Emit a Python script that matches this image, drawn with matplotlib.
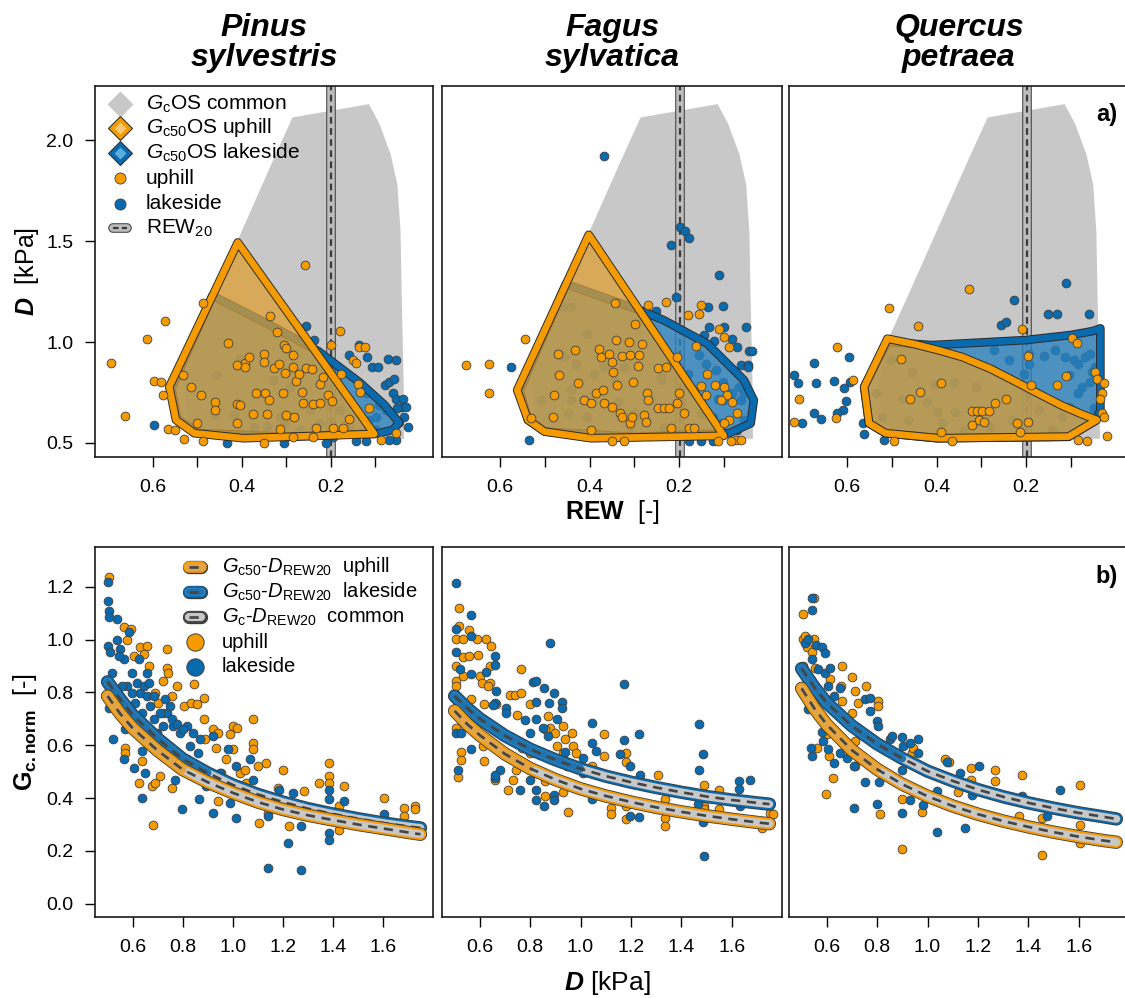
import numpy as np
import matplotlib.pyplot as plt
from matplotlib.patches import Polygon
import matplotlib.patheffects as pe

plt.rcParams['font.family'] = ['Liberation Sans', 'DejaVu Sans']
plt.rcParams['mathtext.fontset'] = 'custom'
plt.rcParams['mathtext.rm'] = 'Liberation Sans'
plt.rcParams['mathtext.it'] = 'Liberation Sans:italic'
plt.rcParams['mathtext.bf'] = 'Liberation Sans:bold'
plt.rcParams['mathtext.bfit'] = 'Liberation Sans:bold:italic'

# %%
# data
species = ['Pinus\nsylvestris', 'Fagus\nsylvatica', 'Quercus\npetraea']
rew20 = [0.199, 0.199, 0.199]

# common Gc operating space (REW, D)
common_os = [[0.286, 2.114], [0.33, 1.90], [0.37, 1.70], [0.41, 1.50], [0.45, 1.30],
             [0.503, 1.04], [0.53, 0.80], [0.52, 0.60], [0.48, 0.53], [0.035, 0.52],
             [0.036, 0.80], [0.040, 1.20], [0.043, 1.55], [0.050, 1.78], [0.065, 1.93],
             [0.09, 2.08], [0.114, 2.18]]

# Gc50 operating spaces
os_up = [
    [[0.409, 1.494], [0.563, 0.778], [0.548, 0.614], [0.507, 0.548], [0.396, 0.523], [0.102, 0.544]],
    [[0.402, 1.532], [0.562, 0.762], [0.538, 0.614], [0.501, 0.556], [0.397, 0.523], [0.100, 0.535]],
    [[0.51, 1.017], [0.45, 0.99], [0.40, 0.962], [0.343, 0.926], [0.28, 0.868], [0.22, 0.80],
     [0.179, 0.752], [0.12, 0.685], [0.075, 0.642], [0.042, 0.614], [0.105, 0.531],
     [0.395, 0.523], [0.514, 0.548], [0.551, 0.597], [0.562, 0.778]],
]
os_lake = [
    [[0.466, 1.23], [0.35, 1.10], [0.228, 0.955], [0.135, 0.80], [0.08, 0.69], [0.046, 0.60],
     [0.06, 0.565], [0.09, 0.548], [0.3, 0.53], [0.5, 0.55], [0.545, 0.62], [0.558, 0.77]],
    [[0.453, 1.288], [0.285, 1.156], [0.233, 1.107], [0.137, 0.992], [0.055, 0.811], [0.033, 0.712],
     [0.04, 0.597], [0.088, 0.548], [0.3, 0.53], [0.5, 0.556], [0.538, 0.614], [0.556, 0.76]],
    [[0.51, 1.0], [0.41, 0.985], [0.2, 1.01], [0.1, 1.035], [0.05, 1.055], [0.034, 1.068],
     [0.034, 0.66], [0.045, 0.61], [0.105, 0.53], [0.4, 0.523], [0.514, 0.548], [0.551, 0.597],
     [0.562, 0.778]],
]

# daily points, top row (REW, D)
pinus_up_top = np.array([
    [0.695, 0.898], [0.662, 0.633], [0.614, 1.017], [0.598, 0.808], [0.581, 0.803], [0.578, 0.737],
    [0.572, 1.104], [0.565, 0.569], [0.55, 0.564], [0.531, 0.518], [0.533, 0.836], [0.515, 0.778],
    [0.5, 0.6], [0.492, 0.737], [0.487, 1.194], [0.487, 0.51], [0.46, 0.704], [0.46, 0.663],
    [0.431, 0.997], [0.411, 0.885], [0.411, 0.691], [0.392, 0.898], [0.392, 0.877], [0.383, 0.926],
    [0.375, 0.643], [0.368, 0.748], [0.35, 0.939], [0.35, 0.901], [0.348, 0.748], [0.344, 0.643],
    [0.338, 0.712], [0.336, 1.128], [0.327, 0.873], [0.321, 1.05], [0.316, 0.89], [0.308, 0.745],
    [0.305, 0.984], [0.303, 0.847], [0.3, 0.972], [0.3, 0.638], [0.284, 0.934], [0.284, 0.877],
    [0.282, 0.627], [0.279, 0.808], [0.271, 0.841], [0.265, 0.753], [0.262, 0.699], [0.258, 1.384],
    [0.256, 0.869], [0.242, 0.864], [0.239, 0.692], [0.232, 0.572], [0.225, 0.794], [0.223, 0.696],
    [0.217, 0.827], [0.206, 0.737], [0.199, 0.984], [0.197, 0.709], [0.195, 0.572], [0.18, 1.054],
    [0.176, 0.844], [0.172, 0.572], [0.158, 0.617], [0.149, 0.913], [0.143, 0.897], [0.139, 0.794],
    [0.136, 0.975], [0.124, 0.975], [0.134, 0.753], [0.113, 0.671], [0.087, 0.515], [0.053, 0.548],
    [0.239, 0.531], [0.284, 0.531], [0.351, 0.498], [0.403, 0.688], [0.411, 0.597], [0.315, 0.569]])
pinus_lake_top = np.array([
    [0.597, 0.589], [0.433, 0.498], [0.306, 0.498], [0.256, 1.082], [0.237, 1.012], [0.21, 0.498],
    [0.158, 0.934], [0.136, 0.984], [0.119, 0.926], [0.107, 0.877], [0.094, 0.877], [0.072, 0.918],
    [0.054, 0.91], [0.079, 0.786], [0.068, 0.803], [0.057, 0.819], [0.061, 0.745], [0.053, 0.72],
    [0.037, 0.72], [0.04, 0.679], [0.05, 0.671], [0.031, 0.679], [0.035, 0.63], [0.027, 0.58],
    [0.046, 0.605], [0.053, 0.515], [0.068, 0.515], [0.12, 0.507], [0.143, 0.507], [0.098, 0.564],
    [0.113, 0.614], [0.12, 0.745], [0.091, 0.688], [0.076, 0.663], [0.098, 0.63], [0.455, 0.836],
    [0.403, 0.918], [0.418, 0.638], [0.329, 0.811], [0.292, 0.778], [0.314, 0.63], [0.344, 0.581],
    [0.373, 0.581], [0.306, 0.605], [0.269, 0.564], [0.225, 0.597], [0.18, 0.663], [0.158, 0.581],
    [0.195, 0.531], [0.247, 0.663], [0.463, 0.638], [0.507, 0.564]])
fagus_up_top = np.array([
    [0.676, 0.888], [0.624, 0.893], [0.624, 0.745], [0.544, 1.017], [0.531, 0.622], [0.343, 1.193],
    [0.27, 1.186], [0.23, 1.198], [0.151, 1.186], [0.155, 1.14], [0.18, 1.132], [0.111, 1.066],
    [0.163, 0.979], [0.1, 1.025], [0.089, 0.975], [0.205, 0.926], [0.137, 0.844], [0.151, 0.781],
    [0.14, 0.737], [0.12, 0.786], [0.1, 0.778], [0.093, 0.737], [0.107, 0.712], [0.081, 0.704],
    [0.07, 0.646], [0.089, 0.614], [0.1, 0.597], [0.2, 0.745], [0.177, 0.572], [0.166, 0.572],
    [0.218, 0.572], [0.189, 0.646], [0.204, 0.696], [0.073, 0.515], [0.062, 0.515], [0.084, 0.507],
    [0.114, 0.507], [0.349, 0.507], [0.323, 0.507], [0.471, 0.943], [0.433, 0.963], [0.468, 0.836],
    [0.479, 0.737], [0.483, 0.63], [0.427, 0.795], [0.386, 0.749], [0.371, 0.762], [0.378, 0.967],
    [0.374, 0.926], [0.356, 0.943], [0.341, 1.008], [0.327, 0.929], [0.312, 1.0], [0.309, 0.934],
    [0.29, 0.934], [0.298, 1.09], [0.283, 0.992], [0.302, 0.803], [0.293, 0.88], [0.349, 0.901],
    [0.347, 0.852], [0.339, 0.786], [0.367, 0.696], [0.412, 0.712], [0.397, 0.696], [0.349, 0.679],
    [0.332, 0.646], [0.327, 0.63], [0.309, 0.597], [0.305, 0.63], [0.278, 0.638], [0.274, 0.605],
    [0.272, 0.745], [0.27, 0.712], [0.248, 0.869], [0.248, 0.671], [0.233, 0.671], [0.222, 0.671],
    [0.23, 0.877], [0.397, 0.564]])
fagus_lake_top = np.array([
    [0.367, 1.921], [0.197, 1.571], [0.187, 1.551], [0.178, 1.518], [0.218, 1.482], [0.207, 1.226],
    [0.111, 1.334], [0.101, 1.181], [0.252, 1.156], [0.136, 1.176], [0.133, 1.074], [0.1, 1.074],
    [0.051, 1.074], [0.145, 1.033], [0.123, 1.003], [0.081, 1.016], [0.071, 0.975], [0.043, 0.956],
    [0.038, 0.956], [0.062, 0.885], [0.047, 0.885], [0.047, 0.877], [0.066, 0.778], [0.575, 0.877],
    [0.535, 0.512], [0.155, 0.934], [0.14, 0.893], [0.118, 0.861], [0.103, 0.803], [0.181, 0.844],
    [0.181, 0.786], [0.166, 0.753], [0.114, 0.72], [0.081, 0.745], [0.1, 0.712], [0.062, 0.712],
    [0.055, 0.745], [0.055, 0.614], [0.07, 0.564], [0.151, 0.507], [0.125, 0.507], [0.177, 0.507],
    [0.107, 0.597], [0.151, 0.646], [0.125, 0.63], [0.46, 1.173], [0.442, 1.173], [0.405, 1.041],
    [0.464, 0.934], [0.431, 0.893], [0.457, 0.929], [0.39, 0.844], [0.367, 0.877], [0.323, 0.877],
    [0.345, 0.819], [0.241, 0.811], [0.442, 0.762], [0.442, 0.712], [0.509, 0.712], [0.449, 0.646],
    [0.407, 0.63], [0.337, 0.704], [0.3, 0.646], [0.263, 0.72], [0.241, 0.827], [0.196, 0.704],
    [0.309, 0.581], [0.233, 0.572]])
quercus_up_top = np.array([
    [0.719, 0.605], [0.708, 0.716], [0.626, 0.622], [0.622, 0.975], [0.587, 0.811], [0.507, 1.168],
    [0.495, 0.507], [0.48, 0.918], [0.441, 1.078], [0.328, 1.263], [0.21, 1.066], [0.195, 0.929],
    [0.098, 1.02], [0.086, 0.997], [0.11, 0.831], [0.045, 0.852], [0.041, 0.819], [0.026, 0.798],
    [0.03, 0.745], [0.034, 0.716], [0.03, 0.646], [0.026, 0.63], [0.019, 0.535], [0.084, 0.515],
    [0.064, 0.507], [0.391, 0.798], [0.437, 0.753], [0.46, 0.72], [0.391, 0.556], [0.365, 0.507],
    [0.321, 0.658], [0.31, 0.658], [0.298, 0.658], [0.283, 0.658], [0.306, 0.614], [0.295, 0.605],
    [0.269, 0.699], [0.246, 0.72], [0.22, 0.597], [0.213, 0.556], [0.321, 0.589], [0.131, 0.786],
    [0.19, 0.786], [0.195, 0.605]])
quercus_lake_top = np.array([
    [0.719, 0.836], [0.709, 0.798], [0.674, 0.897], [0.67, 0.795], [0.629, 0.806], [0.596, 0.926],
    [0.594, 0.803], [0.607, 0.77], [0.602, 0.707], [0.609, 0.663], [0.622, 0.65], [0.674, 0.65],
    [0.659, 0.617], [0.701, 0.6], [0.565, 0.597], [0.563, 0.544], [0.518, 0.515], [0.226, 1.209],
    [0.257, 1.086], [0.246, 1.099], [0.151, 1.14], [0.132, 1.14], [0.11, 1.295], [0.06, 1.14],
    [0.272, 0.959], [0.239, 0.91], [0.194, 0.943], [0.159, 0.929], [0.135, 0.959], [0.113, 0.926],
    [0.068, 0.926], [0.057, 0.943], [0.093, 0.91], [0.085, 0.893], [0.053, 0.852], [0.057, 0.803],
    [0.075, 0.778], [0.085, 0.745], [0.105, 0.836], [0.194, 0.893], [0.205, 0.844], [0.105, 0.679],
    [0.049, 0.671], [0.045, 0.877], [0.034, 0.646], [0.503, 0.91], [0.455, 0.852], [0.536, 0.745],
    [0.477, 0.72], [0.421, 0.704], [0.403, 0.786], [0.361, 0.803], [0.313, 0.778], [0.358, 0.655],
    [0.399, 0.655], [0.522, 0.63], [0.464, 0.614], [0.388, 0.597], [0.339, 0.564], [0.281, 0.581],
    [0.232, 0.614], [0.194, 0.745], [0.172, 0.663], [0.142, 0.564], [0.12, 0.63]])

# daily points, bottom row (D, Gc.norm)
pinus_up_bot = np.array([
    [0.505, 1.236], [0.564, 1.046], [0.593, 1.039], [0.577, 1.0], [0.604, 0.938], [0.628, 0.97],
    [0.657, 0.976], [0.644, 0.945], [0.664, 0.9], [0.69, 0.799], [0.703, 0.761], [0.723, 0.723],
    [0.736, 0.964], [0.736, 0.894], [0.743, 0.875], [0.723, 0.843], [0.776, 0.824], [0.756, 0.787],
    [0.805, 0.749], [0.845, 0.831], [0.832, 0.761], [0.859, 0.755], [0.884, 0.78], [0.884, 0.698],
    [0.89, 0.622], [0.922, 0.66], [0.942, 0.647], [0.935, 0.591], [0.988, 0.641], [1.001, 0.673],
    [1.017, 0.666], [1.001, 0.584], [0.972, 0.546], [0.955, 0.496], [1.028, 0.496], [1.048, 0.508],
    [1.083, 0.698], [1.083, 0.61], [1.083, 0.584], [1.054, 0.458], [1.1, 0.521], [1.134, 0.534],
    [1.107, 0.306], [1.14, 0.344], [1.18, 0.439], [1.2, 0.508], [1.224, 0.293], [1.286, 0.426],
    [1.346, 0.458], [1.386, 0.534], [1.386, 0.483], [1.386, 0.458], [1.425, 0.369], [1.446, 0.445],
    [1.425, 0.281], [1.604, 0.401], [1.684, 0.363], [1.684, 0.331], [1.73, 0.369], [1.73, 0.357],
    [0.683, 0.3], [0.677, 0.445], [0.69, 0.458], [0.624, 0.458], [0.637, 0.54], [0.71, 0.483],
    [0.756, 0.439], [0.942, 0.388], [0.571, 0.591], [0.571, 0.572], [0.816, 0.546], [0.829, 0.496]])
pinus_lake_bot = np.array([
    [0.502, 1.219], [0.501, 1.147], [0.505, 1.109], [0.505, 1.084], [0.502, 0.976], [0.511, 0.951],
    [0.518, 0.875], [0.505, 0.742], [0.522, 0.622], [0.538, 1.077], [0.538, 1.0], [0.551, 0.964],
    [0.564, 0.926], [0.577, 0.824], [0.571, 0.66], [0.567, 0.546], [0.584, 1.027], [0.597, 0.875],
    [0.604, 0.698], [0.604, 0.515], [0.617, 0.837], [0.631, 0.799], [0.637, 0.723], [0.637, 0.578],
    [0.637, 0.401], [0.65, 0.496], [0.657, 0.875], [0.657, 0.787], [0.67, 0.749], [0.684, 0.698],
    [0.697, 0.647], [0.723, 0.673], [0.736, 0.723], [0.75, 0.749], [0.763, 0.673], [0.77, 0.47],
    [0.789, 0.647], [0.796, 0.357], [0.816, 0.673], [0.829, 0.597], [0.842, 0.647], [0.862, 0.572],
    [0.866, 0.395], [0.875, 0.496], [0.895, 0.445], [0.922, 0.344], [0.948, 0.496], [0.981, 0.584],
    [0.988, 0.382], [1.001, 0.445], [1.015, 0.325], [1.015, 0.521], [1.081, 0.47], [1.068, 0.546],
    [1.14, 0.331], [1.14, 0.135], [1.184, 0.432], [1.22, 0.23], [1.242, 0.42], [1.273, 0.293],
    [1.273, 0.129], [1.385, 0.432], [1.385, 0.395], [1.385, 0.268], [1.385, 0.243], [1.445, 0.388],
    [1.604, 0.338], [0.544, 0.938], [0.557, 0.824], [0.597, 0.799], [0.611, 0.761], [0.644, 0.824],
    [0.624, 0.926], [0.664, 0.837], [0.684, 0.787], [0.71, 0.723], [0.73, 0.774], [0.756, 0.698],
    [0.776, 0.679], [0.803, 0.66], [0.869, 0.622], [0.922, 0.635]])
fagus_up_bot = np.array([
    [0.516, 1.118], [0.516, 1.052], [0.505, 1.002], [0.534, 1.002], [0.557, 1.037], [0.587, 1.002],
    [0.626, 1.002], [0.646, 0.976], [0.507, 0.9], [0.534, 0.932], [0.557, 0.938], [0.594, 0.941],
    [0.534, 0.862], [0.6, 0.862], [0.64, 0.9], [0.64, 0.837], [0.505, 0.843], [0.505, 0.825],
    [0.607, 0.837], [0.633, 0.825], [0.762, 0.888], [0.719, 0.789], [0.739, 0.789], [0.762, 0.799],
    [0.615, 0.755], [0.666, 0.755], [0.567, 0.774], [0.746, 0.713], [0.799, 0.755], [0.872, 0.711],
    [0.878, 0.666], [0.859, 0.66], [0.899, 0.647], [0.931, 0.673], [0.938, 0.622], [0.965, 0.647],
    [0.971, 0.597], [0.984, 0.572], [0.931, 0.572], [0.905, 0.597], [0.799, 0.572], [0.706, 0.572],
    [0.766, 0.591], [0.505, 0.666], [0.527, 0.574], [0.527, 0.544], [0.514, 0.481], [0.615, 0.54],
    [0.613, 0.597], [0.66, 0.47], [0.713, 0.43], [0.733, 0.47], [0.743, 0.508], [0.799, 0.508],
    [0.825, 0.496], [0.859, 0.464], [0.859, 0.407], [0.931, 0.422], [0.951, 0.346], [0.984, 0.445],
    [1.044, 0.521], [1.093, 0.641], [1.093, 0.559], [1.122, 0.363], [1.122, 0.338], [1.18, 0.572],
    [1.182, 0.536], [1.18, 0.369], [1.18, 0.319], [1.309, 0.489], [1.335, 0.395], [1.335, 0.325],
    [1.335, 0.293], [1.491, 0.448], [1.491, 0.369], [1.491, 0.357], [1.548, 0.43], [1.548, 0.357],
    [1.753, 0.344], [1.766, 0.338], [1.72, 0.287]])
fagus_lake_bot = np.array([
    [0.507, 1.213], [0.567, 1.094], [0.507, 1.039], [0.567, 1.012], [0.505, 0.951], [0.66, 0.936],
    [0.66, 0.903], [0.52, 0.89], [0.567, 0.869], [0.626, 0.878], [0.666, 0.806], [0.66, 0.761],
    [0.706, 0.742], [0.706, 0.721], [0.507, 0.647], [0.527, 0.645], [0.567, 0.587], [0.654, 0.751],
    [0.81, 0.84], [0.823, 0.843], [0.856, 0.818], [0.896, 0.799], [0.825, 0.764], [0.876, 0.761],
    [0.925, 0.764], [0.925, 0.742], [0.878, 0.985], [0.779, 0.694], [0.799, 0.647], [0.823, 0.698],
    [0.852, 0.666], [0.872, 0.635], [0.905, 0.701], [0.938, 0.575], [1.011, 0.553], [1.044, 0.685],
    [1.044, 0.609], [1.06, 0.578], [0.68, 0.508], [0.66, 0.477], [0.759, 0.432], [0.823, 0.43],
    [0.825, 0.392], [0.856, 0.369], [0.896, 0.413], [0.896, 0.392], [1.044, 0.395], [1.157, 0.568],
    [1.174, 0.831], [1.174, 0.619], [1.232, 0.641], [1.196, 0.521], [1.236, 0.489], [1.196, 0.334],
    [1.232, 0.329], [1.471, 0.682], [1.485, 0.565], [1.471, 0.508], [1.468, 0.376], [1.485, 0.309],
    [1.491, 0.182], [1.63, 0.464], [1.63, 0.435], [1.671, 0.468], [1.634, 0.369], [0.514, 0.506],
    [0.66, 0.486], [0.799, 0.47], [0.945, 0.521], [1.011, 0.496]])
quercus_up_bot = np.array([
    [0.507, 1.096], [0.551, 1.156], [0.507, 1.002], [0.514, 1.014], [0.521, 0.97], [0.551, 1.002],
    [0.543, 0.951], [0.507, 0.9], [0.659, 0.9], [0.702, 0.86], [0.656, 0.824], [0.754, 0.824],
    [0.712, 0.806], [0.723, 0.759], [0.803, 0.767], [0.803, 0.749], [0.662, 0.767], [0.702, 0.723],
    [0.613, 0.85], [0.554, 0.894], [0.56, 0.591], [0.609, 0.561], [0.6, 0.641], [0.712, 0.616],
    [0.626, 0.477], [0.596, 0.417], [0.712, 0.521], [0.812, 0.341], [0.9, 0.207], [0.9, 0.395],
    [0.977, 0.346], [0.937, 0.572], [0.944, 0.591], [1.068, 0.546], [1.084, 0.536], [1.121, 0.422],
    [1.174, 0.515], [1.174, 0.47], [1.267, 0.508], [1.267, 0.464], [1.375, 0.486], [1.365, 0.331],
    [1.454, 0.325], [1.454, 0.186], [1.607, 0.448], [1.607, 0.3], [1.607, 0.23]])
quercus_lake_bot = np.array([
    [0.543, 1.156], [0.543, 1.113], [0.514, 0.986], [0.527, 1.002], [0.556, 0.979], [0.583, 0.97],
    [0.591, 0.948], [0.54, 0.926], [0.564, 0.888], [0.593, 0.875], [0.613, 0.894], [0.604, 0.824],
    [0.653, 0.818], [0.627, 0.787], [0.527, 0.736], [0.58, 0.65], [0.586, 0.616], [0.538, 0.591],
    [0.543, 0.561], [0.604, 0.584], [0.627, 0.534], [0.653, 0.572], [0.679, 0.553], [0.71, 0.521],
    [0.71, 0.363], [0.752, 0.774], [0.772, 0.78], [0.772, 0.73], [0.799, 0.692], [0.803, 0.673],
    [0.752, 0.46], [0.799, 0.379], [0.806, 0.46], [0.851, 0.622], [0.858, 0.635], [0.9, 0.632],
    [0.904, 0.597], [0.931, 0.609], [0.961, 0.622], [0.963, 0.572], [0.9, 0.508], [0.9, 0.344],
    [0.931, 0.392], [0.984, 0.372], [1.037, 0.271], [1.037, 0.426], [1.077, 0.536], [1.13, 0.496],
    [1.147, 0.287], [1.176, 0.413], [1.205, 0.521], [1.375, 0.407], [1.474, 0.331], [1.527, 0.43]])

# fitted Gc50 - D curves at REW20
d_curve = [0.50, 0.55, 0.60, 0.70, 0.80, 0.90, 1.00, 1.10, 1.20, 1.30, 1.40, 1.50, 1.60, 1.70, 1.75]
gc_up = [
    [0.786, 0.72, 0.665, 0.58, 0.508, 0.46, 0.42, 0.385, 0.357, 0.335, 0.317, 0.300, 0.285, 0.270, 0.263],
    [0.73, 0.68, 0.638, 0.567, 0.512, 0.47, 0.435, 0.408, 0.385, 0.365, 0.348, 0.333, 0.32, 0.308, 0.303],
    [0.815, 0.74, 0.678, 0.581, 0.509, 0.452, 0.407, 0.37, 0.339, 0.313, 0.291, 0.271, 0.254, 0.239, 0.233],
]
gc_lake = [
    [0.84, 0.775, 0.715, 0.625, 0.548, 0.495, 0.45, 0.414, 0.385, 0.36, 0.34, 0.322, 0.306, 0.293, 0.287],
    [0.786, 0.74, 0.70, 0.636, 0.585, 0.545, 0.511, 0.483, 0.46, 0.44, 0.422, 0.406, 0.393, 0.382, 0.377],
    [0.89, 0.82, 0.76, 0.673, 0.605, 0.55, 0.502, 0.465, 0.432, 0.405, 0.382, 0.362, 0.344, 0.329, 0.321],
]
site_end_up = [0.82, 0.83, 0.82]
site_end_lake = [0.90, 1.05, 0.98]

top_up = [pinus_up_top, fagus_up_top, quercus_up_top]
top_lake = [pinus_lake_top, fagus_lake_top, quercus_lake_top]
bot_up = [pinus_up_bot, fagus_up_bot, quercus_up_bot]
bot_lake = [pinus_lake_bot, fagus_lake_bot, quercus_lake_bot]

# %%
ORANGE = '#F59B00'
BLUE = '#0A6AAE'
GREY = '#C8C8C8'
PT = 40

W, H = 1125, 998
fig = plt.figure(figsize=(W / 100, H / 100), dpi=100)
lefts = [95, 442, 789]
widths = [338, 340, 340]
top_axes = [fig.add_axes([l / W, 1 - 457 / H, w / W, 371 / H]) for l, w in zip(lefts, widths)]
bot_axes = [fig.add_axes([l / W, 1 - 917 / H, w / W, 370 / H]) for l, w in zip(lefts, widths)]


def outline(ax, poly, col, z):
    ax.add_patch(Polygon(poly, closed=True, fill=False, ec=col, lw=4.8, joinstyle='round', zorder=z,
                         path_effects=[pe.Stroke(linewidth=6.2, foreground='#2a2a2a'), pe.Normal()]))


def rew_band(ax, x0, x1, y, transform):
    kw = dict(solid_capstyle='round', clip_on=False, transform=transform, zorder=7)
    ax.plot([x0, x1], [y, y], color='#4a4a4a', lw=7.0, **kw)
    ax.plot([x0, x1], [y, y], color='#BDBDBD', lw=5.4, **kw)
    ax.plot([x0, x1], [y, y], color='#3a3a3a', lw=1.6, dashes=(2.5, 1.5), **kw)


def band(ax, x, y, col, inner, end, z=5, transform=None):
    x = np.asarray(x)
    y = np.asarray(y)
    kw = dict(solid_capstyle='round')
    if transform is not None:
        kw.update(transform=transform, clip_on=False)
    ax.plot(x, y, color='#3a3a3a', lw=9.6, zorder=z, **kw)
    ax.plot(x, y, color=col, lw=8.4, zorder=z, **kw)
    ax.plot(x, y, color=GREY, lw=5.6, zorder=z, **kw)
    m = x <= end
    if m.sum() > 1:
        ax.plot(x[m], y[m], color=inner, lw=5.6, zorder=z, **kw)
    ax.plot(x, y, color='#444444', lw=1.9, dashes=(3.5, 2.5), zorder=z, **kw)


for i, ax in enumerate(top_axes):
    ax.add_patch(Polygon(common_os, closed=True, fc=GREY, ec='none', zorder=1))
    ax.axvline(rew20[i], color='#4a4a4a', lw=7.0, zorder=2)
    ax.axvline(rew20[i], color='#BDBDBD', lw=5.4, zorder=2)
    ax.axvline(rew20[i], color='#3a3a3a', lw=1.6, dashes=(3, 2), zorder=2)
    ax.scatter(top_lake[i][:, 0], top_lake[i][:, 1], s=PT, c=BLUE, edgecolors='#404040',
               linewidths=0.6, zorder=3)
    ax.add_patch(Polygon(os_lake[i], closed=True, fc='#2A82BE', ec='none', alpha=0.78, zorder=4))
    outline(ax, os_lake[i], BLUE, 4)
    ax.add_patch(Polygon(os_up[i], closed=True, fc='#E09E30', ec='none', alpha=0.72, zorder=4))
    outline(ax, os_up[i], ORANGE, 4)
    ax.scatter(top_up[i][:, 0], top_up[i][:, 1], s=PT, c=ORANGE, edgecolors='#404040',
               linewidths=0.6, zorder=5)
    ax.set_xlim(0.73, -0.03)
    ax.set_ylim(0.43, 2.27)
    ax.set_xticks([0.6, 0.5, 0.4, 0.3, 0.2, 0.1])
    ax.set_xticklabels(['0.6', '', '0.4', '', '0.2', ''])
    if i == 0:
        ax.set_yticks([0.5, 1.0, 1.5, 2.0])
        ax.set_yticklabels(['0.5', '1.0', '1.5', '2.0'])
    else:
        ax.set_yticks([])

for i, ax in enumerate(bot_axes):
    ax.scatter(bot_up[i][:, 0], bot_up[i][:, 1], s=PT, c=ORANGE, edgecolors='#404040',
               linewidths=0.6, zorder=3)
    ax.scatter(bot_lake[i][:, 0], bot_lake[i][:, 1], s=PT, c=BLUE, edgecolors='#404040',
               linewidths=0.6, zorder=3)
    band(ax, d_curve, gc_lake[i], BLUE, '#1F74B0', site_end_lake[i])
    band(ax, d_curve, gc_up[i], ORANGE, '#E3A445', site_end_up[i])
    ax.set_xlim(0.45, 1.80)
    ax.set_ylim(-0.05, 1.35)
    ax.set_xticks([0.6, 0.8, 1.0, 1.2, 1.4, 1.6])
    ax.set_xticklabels(['0.6', '0.8', '1.0', '1.2', '1.4', '1.6'])
    if i == 0:
        ax.set_yticks([0.0, 0.2, 0.4, 0.6, 0.8, 1.0, 1.2])
        ax.set_yticklabels(['0.0', '0.2', '0.4', '0.6', '0.8', '1.0', '1.2'])
    else:
        ax.set_yticks([])

for ax in top_axes + bot_axes:
    ax.tick_params(axis='x', direction='out', length=7.5, width=1.0, labelsize=14, pad=8)
    ax.tick_params(axis='y', direction='out', length=7.5, width=1.0, labelsize=14, pad=8)
    for s in ax.spines.values():
        s.set_linewidth(1.2)
        s.set_color('#1a1a1a')

# legend, top row
ax = top_axes[0]
T = ax.transAxes
ly = [0.951, 0.887, 0.820, 0.752, 0.682, 0.617]
lx, tx = 0.074, 0.151
ax.plot(lx, ly[0], marker='D', ms=13.5, mfc=GREY, mec='none', transform=T, clip_on=False, zorder=7)
ax.plot(lx, ly[1], marker='D', ms=12.5, mfc=ORANGE, mec='#333333', mew=0.8, transform=T, zorder=7)
ax.plot(lx, ly[1], marker='D', ms=6, mfc='#F7C77A', mec='none', transform=T, zorder=7)
ax.plot(lx, ly[2], marker='D', ms=12.5, mfc=BLUE, mec='#333333', mew=0.8, transform=T, zorder=7)
ax.plot(lx, ly[2], marker='D', ms=6, mfc='#5AAEDF', mec='none', transform=T, zorder=7)
ax.plot(lx, ly[3], marker='o', ms=8, mfc=ORANGE, mec='#404040', mew=0.6, transform=T, zorder=7)
ax.plot(lx, ly[4], marker='o', ms=8, mfc=BLUE, mec='#404040', mew=0.6, transform=T, zorder=7)
rew_band(ax, 0.052, 0.096, ly[5], T)
top_labels = [r'$G_{\mathrm{c}}$OS common', r'$G_{\mathrm{c50}}$OS uphill', r'$G_{\mathrm{c50}}$OS lakeside',
              'uphill', 'lakeside', r'REW$_{20}$']
for y, lab in zip(ly, top_labels):
    ax.text(tx, y, lab, transform=T, va='center', ha='left', fontsize=15, zorder=7)

# legend, bottom row
ax = bot_axes[0]
T = ax.transAxes
by = [0.946, 0.878, 0.811, 0.743, 0.676]
band(ax, [0.277, 0.315], [by[0], by[0]], ORANGE, '#E3A445', 1.0, z=7, transform=T)
band(ax, [0.277, 0.315], [by[1], by[1]], BLUE, '#1F74B0', 1.0, z=7, transform=T)
band(ax, [0.277, 0.315], [by[2], by[2]], '#4a4a4a', GREY, 1.0, z=7, transform=T)
ax.plot(0.296, by[3], marker='o', ms=12.5, mfc=ORANGE, mec='#404040', mew=0.7, transform=T, zorder=7)
ax.plot(0.296, by[4], marker='o', ms=12.5, mfc=BLUE, mec='#404040', mew=0.7, transform=T, zorder=7)
bot_labels = [r'$G_{\mathrm{c50}}$-$D_{\mathrm{REW20}}$  uphill', r'$G_{\mathrm{c50}}$-$D_{\mathrm{REW20}}$  lakeside',
              r'$G_{\mathrm{c}}$-$D_{\mathrm{REW20}}$  common', 'uphill', 'lakeside']
for y, lab in zip(by, bot_labels):
    ax.text(0.376, y, lab, transform=T, va='center', ha='left', fontsize=14.5, zorder=7)

top_axes[2].text(0.935, 0.922, 'a)', transform=top_axes[2].transAxes, ha='center', va='center',
                 fontsize=17, fontweight='bold')
bot_axes[2].text(0.935, 0.919, 'b)', transform=bot_axes[2].transAxes, ha='center', va='center',
                 fontsize=17, fontweight='bold')

for l, w, name in zip(lefts, widths, species):
    fig.text((l + w / 2) / W, 1 - 43 / H, name, ha='center', va='center', fontsize=23,
             fontweight='bold', fontstyle='italic', linespacing=1.0)

fig.text(27 / W, 1 - 271.5 / H, r'$\mathbfit{D}$  [kPa]', rotation=90, ha='center', va='center', fontsize=18)
fig.text(612 / W, 1 - 512 / H, r'$\mathbf{REW}$  [-]', ha='center', va='center', fontsize=18)
fig.text(25 / W, 1 - 732 / H, r'$\mathbf{G_{c.norm}}$  [-]', rotation=90, ha='center', va='center', fontsize=18)
fig.text(607 / W, 1 - 983 / H, r'$\mathbfit{D}$ [kPa]', ha='center', va='center', fontsize=19)

plt.savefig('out.png', dpi=100)
